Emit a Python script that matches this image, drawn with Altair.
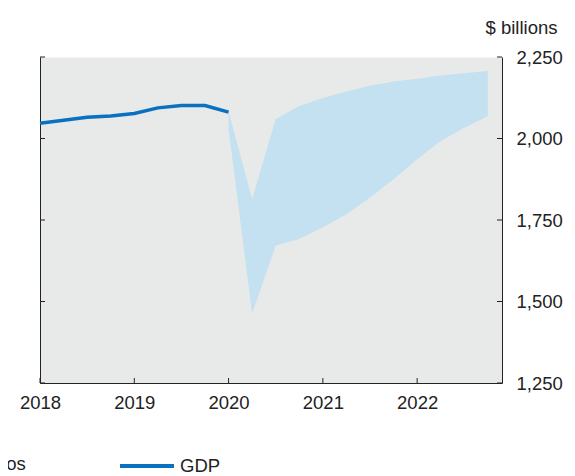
import altair as alt
import pandas as pd

# ---- data ----
gdp_t = [2018.0, 2018.25, 2018.5, 2018.75, 2019.0, 2019.25, 2019.5, 2019.75, 2020.0]
gdp_v = [2047, 2056, 2065, 2069, 2077, 2094, 2101, 2101, 2081]

band_t = [2020.0, 2020.25, 2020.5, 2020.75, 2021.0, 2021.25, 2021.5, 2021.75,
          2022.0, 2022.25, 2022.5, 2022.75]
band_hi = [2083, 1814, 2060, 2100, 2124, 2144, 2162, 2175, 2183, 2193, 2200, 2207]
band_lo = [2030, 1463, 1672, 1692, 1728, 1768, 1819, 1875, 1936, 1992, 2033, 2068]

y_ticks = [1250, 1500, 1750, 2000, 2250]
x_ticks = [2018, 2019, 2020, 2021, 2022]

W, H = 462, 326
FONT = "Liberation Sans"
FS = 18.5
TXT = "#222222"
BAND = "#c3e1f0"
LINE = "#0a70c0"

gdp_df = pd.DataFrame({"t": gdp_t, "v": gdp_v, "s": "GDP"})
band_df = pd.DataFrame({"t": band_t, "hi": band_hi, "lo": band_lo, "s": "Scenarios"})
yt_df = pd.DataFrame({"v": y_ticks})
xt_df = pd.DataFrame({"t": x_ticks})

xscale = alt.Scale(domain=[2018, 2022.9], nice=False, zero=False)
yscale = alt.Scale(domain=[1250, 2250], nice=False, zero=False)

xaxis = alt.Axis(values=x_ticks, format="d", ticks=False, grid=False, title=None,
                 labelFlush=False, labelPadding=10, labelFontSize=FS, labelColor=TXT,
                 labelFont=FONT, domainColor=TXT, domainWidth=1)

yaxis_right = alt.Axis(orient="right", values=y_ticks, format=",.0f", ticks=False, grid=False,
                       labelFlush=False, labelPadding=14, labelFontSize=FS, labelColor=TXT,
                       labelFont=FONT, labelAlign="left", domainColor=TXT, domainWidth=1,
                       title="$ billions", titleAngle=0, titleAlign="right",
                       titleBaseline="middle", titleX=55, titleY=-30,
                       titleFontSize=FS, titleFontWeight="normal", titleColor=TXT,
                       titleFont=FONT)

yaxis_left = alt.Axis(orient="left", values=y_ticks, ticks=False, labels=False, grid=False,
                      title=None, domainColor=TXT, domainWidth=1)

band = alt.Chart(band_df).mark_area(opacity=1).encode(
    x=alt.X("t:Q", scale=xscale, axis=xaxis),
    y=alt.Y("hi:Q", scale=yscale, axis=yaxis_right),
    y2="lo:Q",
    fill=alt.Fill(
        "s:N",
        scale=alt.Scale(domain=["Scenarios"], range=[BAND]),
        legend=alt.Legend(orient="none", legendX=-120, legendY=398, title=None,
                          symbolType="square", symbolSize=225, symbolStrokeWidth=0,
                          labelFontSize=FS, labelFont=FONT, labelColor=TXT, labelOffset=5),
    ),
)

line = alt.Chart(gdp_df).mark_line(strokeWidth=3.5).encode(
    x=alt.X("t:Q", scale=xscale, axis=xaxis),
    y=alt.Y("v:Q", scale=yscale, axis=None),
    stroke=alt.Stroke(
        "s:N",
        scale=alt.Scale(domain=["GDP"], range=[LINE]),
        legend=alt.Legend(orient="none", legendX=78, legendY=380, title=None,
                          symbolType="stroke", symbolSize=2916, symbolStrokeWidth=4,
                          labelFontSize=FS, labelFont=FONT, labelColor=TXT, labelOffset=4),
    ),
)

left_ticks = alt.Chart(yt_df).mark_rule(color=TXT, strokeWidth=1).encode(
    x=alt.value(0), x2=alt.value(5),
    y=alt.Y("v:Q", scale=yscale, axis=yaxis_left),
)

right_ticks = alt.Chart(yt_df).mark_rule(color=TXT, strokeWidth=1).encode(
    x=alt.value(W - 5), x2=alt.value(W),
    y=alt.Y("v:Q", scale=yscale, axis=None),
)

bottom_ticks = alt.Chart(xt_df).mark_rule(color=TXT, strokeWidth=1).encode(
    x=alt.X("t:Q", scale=xscale, axis=xaxis),
    y=alt.value(H - 5), y2=alt.value(H),
)

chart = (
    alt.layer(band, line, left_ticks, right_ticks, bottom_ticks)
    .resolve_axis(y="independent")
    .properties(
        width=W, height=H,
        autosize=alt.AutoSizeParams(type="none"),
        padding={"left": 32, "top": 49, "right": 65, "bottom": 95},
    )
    .configure(font=FONT)
    .configure_view(fill="#e8e9e9", stroke="transparent")
)

chart.save("out.html", embed_options={"renderer": "svg", "actions": False})
